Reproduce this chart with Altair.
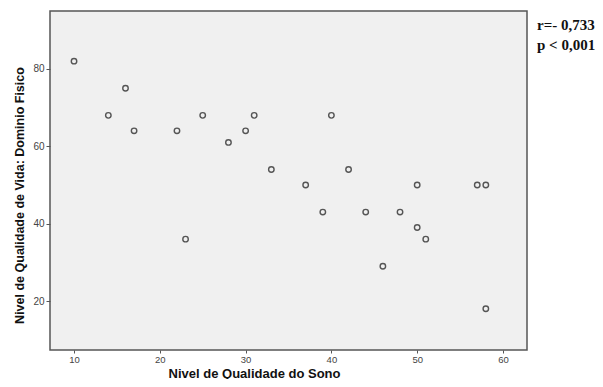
import altair as alt
import pandas as pd

sono = [10, 14, 16, 17, 22, 23, 25, 28, 30, 31, 33, 37, 39, 40, 42, 44, 46, 48, 50, 50, 51, 57, 58, 58]
fisico = [82, 68, 75, 64, 64, 36, 68, 61, 64, 68, 54, 50, 43, 68, 54, 43, 29, 43, 50, 39, 36, 50, 50, 18]
annot = ["r=- 0,733", "p < 0,001"]

df = pd.DataFrame({"sono": sono, "fisico": fisico})

pts = alt.Chart(df).mark_point(
    shape="circle", filled=False, size=30, stroke="#555555", strokeWidth=1.4, opacity=1
).encode(
    x=alt.X("sono:Q", scale=alt.Scale(domain=[7.2, 62.8], nice=False, zero=False),
            axis=alt.Axis(values=[10, 20, 30, 40, 50, 60], title="Nivel de Qualidade do Sono",
                          grid=False, domain=False, tickSize=3, tickColor="#555555",
                          labelFontSize=9.5, labelColor="#444444", labelFont="Arial",
                          titleFont="Arial", titleFontSize=13, titleFontWeight="bold",
                          titleColor="#111111", titleX=204, titleY=27,
                          titleAlign="center", titleBaseline="alphabetic", labelPadding=1)),
    y=alt.Y("fisico:Q", scale=alt.Scale(domain=[7.35, 94.97], nice=False, zero=False),
            axis=alt.Axis(values=[20, 40, 60, 80], title="Nivel de Qualidade de Vida: Dominio Fisico",
                          grid=False, domain=False, tickSize=4, tickColor="#555555",
                          labelFontSize=10, labelColor="#444444", labelFont="Arial",
                          titleFont="Arial", titleFontSize=12.5, titleFontWeight="bold",
                          titleColor="#111111", titleX=-31, titleY=184, titleAngle=270,
                          titleAlign="center", titleBaseline="middle", labelPadding=2)),
)

adf = pd.DataFrame({"t": annot, "i": [0, 1]})
txt = alt.Chart(adf).mark_text(
    font="Liberation Serif", fontSize=15, fontWeight="bold", align="left",
    baseline="middle", color="#111111"
).encode(
    text="t:N",
    x=alt.value(487),
    y=alt.Y("i:Q", scale=alt.Scale(domain=[0, 1], range=[14, 34]), axis=None),
)

chart = alt.layer(pts, txt).resolve_scale(y="independent").properties(
    width=477, height=339, autosize="none",
    padding={"left": 42, "top": 3, "right": 68, "bottom": 29},
).configure_view(fill="#f0f0f0", stroke="#555555", strokeWidth=1.5)

chart.save("out.html", embed_options={"renderer": "svg", "actions": False})
